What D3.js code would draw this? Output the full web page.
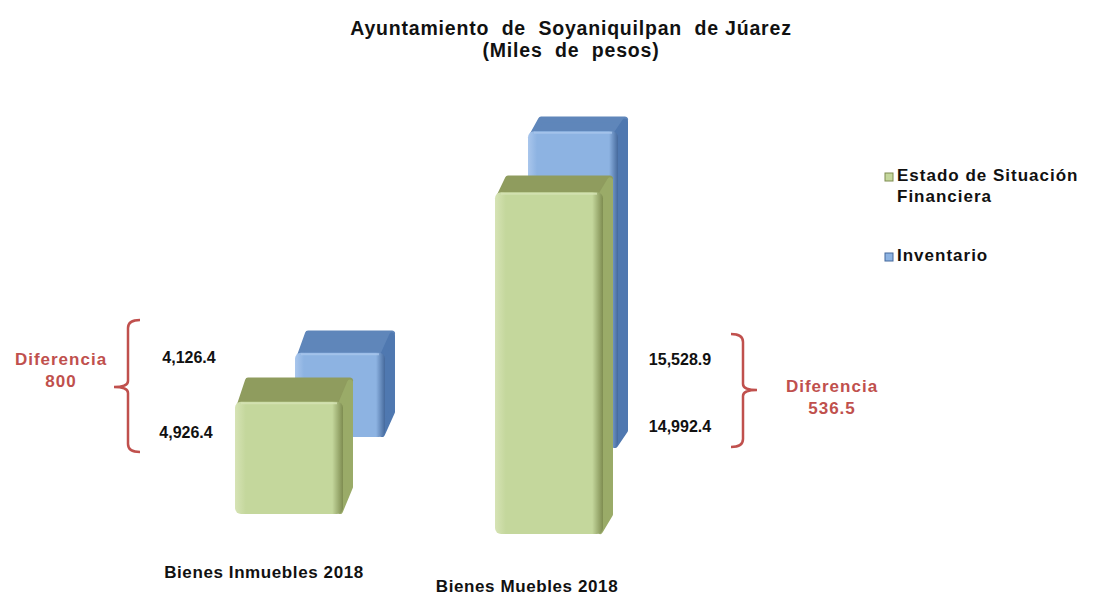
<html>
<head>
<meta charset="utf-8">
<script src="https://d3js.org/d3.v7.min.js"></script>
<style>
  body { margin: 0; background: #fff; }
  text { font-family: Arial, "Liberation Sans", sans-serif; font-weight: bold; }
</style>
</head>
<body>
<svg width="1098" height="597" id="chart"></svg>
<script>
// data
const categories = ["Bienes Inmuebles 2018", "Bienes Muebles 2018"];
const seriesNames = ["Estado de Situación Financiera", "Inventario"];
const estadoValues = [4926.4, 14992.4];
const inventarioValues = [4126.4, 15528.9];
const diferencias = ["800", "536.5"];
const titleLines = ["Ayuntamiento  de  Soyaniquilpan  de Júarez", "(Miles  de  pesos)"];

const fmt = d3.format(",.1f");

const svg = d3.select("#chart");

// colors: front, top, side
const greenCols = { front: "#c4d79c", light: "#d6e3b5", top: "#8f9c5e", side: "#9aab68", edge: "#7e8c50" };
const blueCols = { front: "#8db3e2", light: "#a9c6ec", top: "#5f86ba", side: "#4f78b0", edge: "#45699c" };

// gradients for soft bevel look
const defs = svg.append("defs");
function addGrad(id, c) {
    const g = defs.append("linearGradient").attr("id", id)
        .attr("x1", 0).attr("y1", 0).attr("x2", 1).attr("y2", 0);
    g.append("stop").attr("offset", "0%").attr("stop-color", c.light);
    g.append("stop").attr("offset", "10%").attr("stop-color", c.front);
    g.append("stop").attr("offset", "90%").attr("stop-color", c.front);
    g.append("stop").attr("offset", "100%").attr("stop-color", c.edge);
}
addGrad("gGreen", greenCols);
addGrad("gBlue", blueCols);

// perspective-ish layout
const xFront = d3.scalePoint().domain(categories).range([235, 495]);
const xBack = d3.scalePoint().domain(categories).range([295, 528]);
const hFront = d3.scaleLinear().domain([0, 15000]).range([0, 342]);
const hBack = d3.scaleLinear().domain([0, 15000]).range([0, 306]);
const baseFront = x => 514 + (x - 235) * 0.077;
const baseBack = x => 437 + (x - 295) * 0.047;
const wFront = 108, wBack = 90;

function drawBar(g, x, base, w, h, cols, fill) {
    const top = base - h;
    const dy = 10 + 0.035 * top;
    const dx = 10;
    const r = 3; // rounding via stroke join
    // top face
    g.append("path")
        .attr("d", `M${x + r + 2},${top + r} L${x + w - r},${top + r} L${x + w + dx - r},${top - dy + r} L${x + dx + r},${top - dy + r} Z`)
        .attr("fill", cols.top).attr("stroke", cols.top)
        .attr("stroke-width", r * 2).attr("stroke-linejoin", "round");
    // side face
    g.append("path")
        .attr("d", `M${x + w - r},${top + r + 2} L${x + w + dx - r},${top - dy + r + 2} L${x + w + dx - r},${base - dy - r} L${x + w - r},${base - r} Z`)
        .attr("fill", cols.side).attr("stroke", cols.side)
        .attr("stroke-width", r * 2).attr("stroke-linejoin", "round");
    // front face
    g.append("rect")
        .attr("x", x).attr("y", top)
        .attr("width", w).attr("height", h)
        .attr("rx", 6).attr("ry", 6)
        .attr("fill", fill);
    // highlight along top edge
    g.append("line")
        .attr("x1", x + 6).attr("x2", x + w - 6)
        .attr("y1", top + 1.5).attr("y2", top + 1.5)
        .attr("stroke", cols.light).attr("stroke-width", 2).attr("opacity", 0.8);
}

const bars = svg.append("g");
// back row (Inventario) first
categories.forEach((c, i) => {
    const x = xBack(c);
    drawBar(bars, x, baseBack(x), wBack, hBack(inventarioValues[i]), blueCols, "url(#gBlue)");
});
categories.forEach((c, i) => {
    const x = xFront(c);
    drawBar(bars, x, baseFront(x), wFront, hFront(estadoValues[i]), greenCols, "url(#gGreen)");
});

// title
svg.append("g").selectAll("text").data(titleLines).join("text")
    .attr("x", 571).attr("y", (d, i) => 35 + i * 22)
    .attr("text-anchor", "middle")
    .attr("font-size", 19.5)
    .attr("letter-spacing", 0.8)
    .style("white-space", "pre")
    .attr("fill", "#111")
    .text(d => d);

// category labels
svg.append("g").selectAll("text").data(categories).join("text")
    .attr("x", (d, i) => [264, 527][i])
    .attr("y", (d, i) => [578, 592][i])
    .attr("text-anchor", "middle")
    .attr("font-size", 17)
    .attr("letter-spacing", 0.6)
    .attr("fill", "#111")
    .text(d => d);

// value labels
const valueLabels = [
    { x: 189, y: 363, v: inventarioValues[0] },
    { x: 186, y: 438, v: estadoValues[0] },
    { x: 680, y: 365, v: inventarioValues[1] },
    { x: 680, y: 432, v: estadoValues[1] }
];
svg.append("g").selectAll("text").data(valueLabels).join("text")
    .attr("x", d => d.x).attr("y", d => d.y)
    .attr("text-anchor", "middle")
    .attr("font-size", 16)
    .attr("fill", "#111")
    .text(d => fmt(d.v));

// braces
const red = "#c0504d";
function brace(x, y1, y2, ym, dir) {
    // dir: -1 tip to the left, +1 tip to the right
    const h = 12 * -dir;   // hooks point away from tip
    const t = 14 * dir;
    return `M${x + h},${y1} Q${x},${y1} ${x},${y1 + 8} L${x},${ym - 6} Q${x},${ym} ${x + t},${ym}` +
           ` Q${x},${ym} ${x},${ym + 6} L${x},${y2 - 8} Q${x},${y2} ${x + h},${y2}`;
}
svg.append("path").attr("d", brace(128, 320, 452, 387, -1))
    .attr("fill", "none").attr("stroke", red).attr("stroke-width", 2.5);
svg.append("path").attr("d", brace(743, 334, 447, 390, 1))
    .attr("fill", "none").attr("stroke", red).attr("stroke-width", 2.5);

const difLabels = [
    { x: 61, y: 365, d: diferencias[0] },
    { x: 832, y: 392, d: diferencias[1] }
];
difLabels.forEach(l => {
    const t = svg.append("text")
        .attr("x", l.x).attr("y", l.y)
        .attr("text-anchor", "middle")
        .attr("font-size", 17)
        .attr("letter-spacing", 1)
        .attr("fill", red);
    t.append("tspan").attr("x", l.x).text("Diferencia");
    t.append("tspan").attr("x", l.x).attr("dy", 22).text(l.d);
});

// legend
const legend = svg.append("g").attr("transform", "translate(885,0)");
const legendItems = [
    { lines: ["Estado de Situación", "Financiera"], y: 181, c: greenCols },
    { lines: ["Inventario"], y: 261, c: blueCols }
];
legendItems.forEach(it => {
    legend.append("rect").attr("x", 0).attr("y", it.y - 8).attr("width", 8).attr("height", 8)
        .attr("fill", it.c.front).attr("stroke", it.c.edge).attr("stroke-width", 1);
    const t = legend.append("text").attr("x", 12).attr("y", it.y)
        .attr("font-size", 17).attr("letter-spacing", 1).attr("fill", "#111");
    it.lines.forEach((ln, i) => t.append("tspan").attr("x", 12).attr("dy", i ? 21 : 0).text(ln));
});
</script>
</body>
</html>
